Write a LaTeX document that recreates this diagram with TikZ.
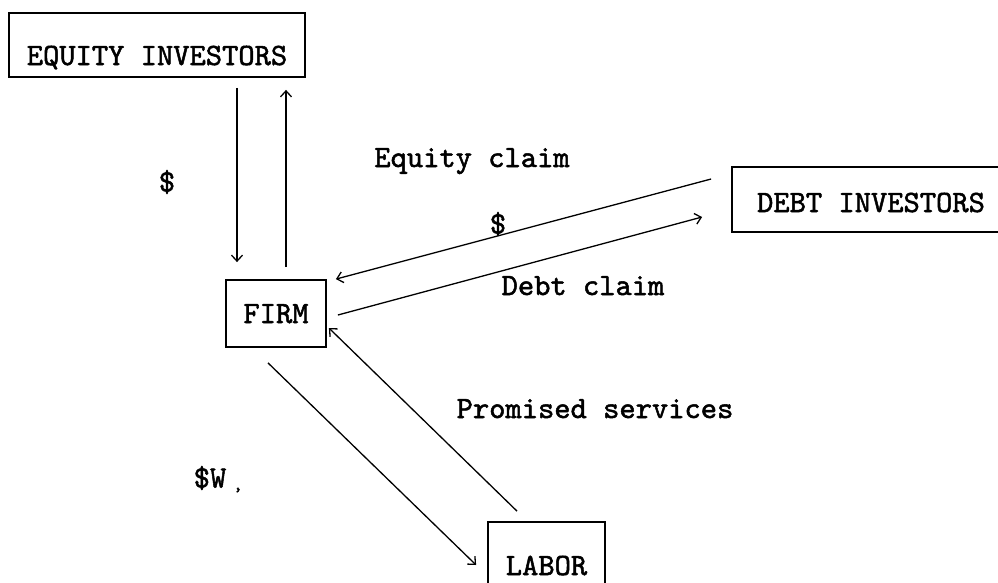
\documentclass[tikz,border=0pt]{standalone}
\usepackage{fontspec}
\newfontfamily\tw{lmmono10-regular.otf}[FakeBold=1.6]
\usetikzlibrary{arrows.meta,calc}
\tikzset{
  every node/.style={font=\tw\fontsize{31}{34}\selectfont, text=black},
  boxnode/.style={draw, line width=1.8pt, inner sep=0pt, anchor=base, align=center},
  flow/.style={line width=1.3pt, -{Straight Barb[length=6pt,width=11pt,line width=1.3pt]}},
  lbl/.style={inner sep=0pt, anchor=base},
}
\begin{document}
\begin{tikzpicture}[x=1pt,y=-1pt]
\useasboundingbox (0,0) rectangle (998,582);
\clip (0,0) rectangle (998,582);
\node[boxnode, minimum width=296pt, text height=52pt, text depth=12pt] (eq) at (157,65) {EQUITY INVESTORS};
\node[boxnode, minimum width=100pt, text height=43pt, text depth=24pt] (firm) at (276,323) {FIRM};
\node[boxnode, minimum width=278pt, text height=45pt, text depth=20pt] (debt) at (871,212) {DEBT INVESTORS};
\node[boxnode, minimum width=117pt, text height=53pt, text depth=20pt] (labor) at (546.5,575) {LABOR};

\draw[flow] ($(eq.south)+(80,10)$) -- ($(firm.north)+(-39,-17)$);
\draw[flow] ($(firm.north)+(10,-12)$) -- ($(eq.south)+(129,12)$);
\draw[flow] ($(debt.west)+(-20,-20.5)$) -- ($(firm.north east)+(9,0)$);
\draw[flow] ($(firm.east)+(11,1.5)$) -- ($(debt.west)+(-29,17.5)$);
\draw[flow] ($(firm.south)+(-8,15)$) -- ($(labor.west)+(-11,6.5)$);
\draw[flow] ($(labor.north)+(-29.5,-10)$) -- ($(firm.east)+(2,14.5)$);

\node[lbl] (eqclaim) at (472,167) {Equity claim};
\node[inner sep=0pt] (dollarmid) at (498,224) {\$};
\node[lbl] (debtclaim) at (583,295) {Debt claim};
\node[lbl] (promised) at (595,418) {Promised services};
\node[inner sep=0pt] (dollarleft) at (167,182) {\$};
\node[inner sep=0pt] (wage) at (210,478) {\$W};
\node[inner sep=0pt, font=\tw\fontsize{18}{20}\selectfont] (comma) at (238,490) {,};
\end{tikzpicture}
\end{document}
